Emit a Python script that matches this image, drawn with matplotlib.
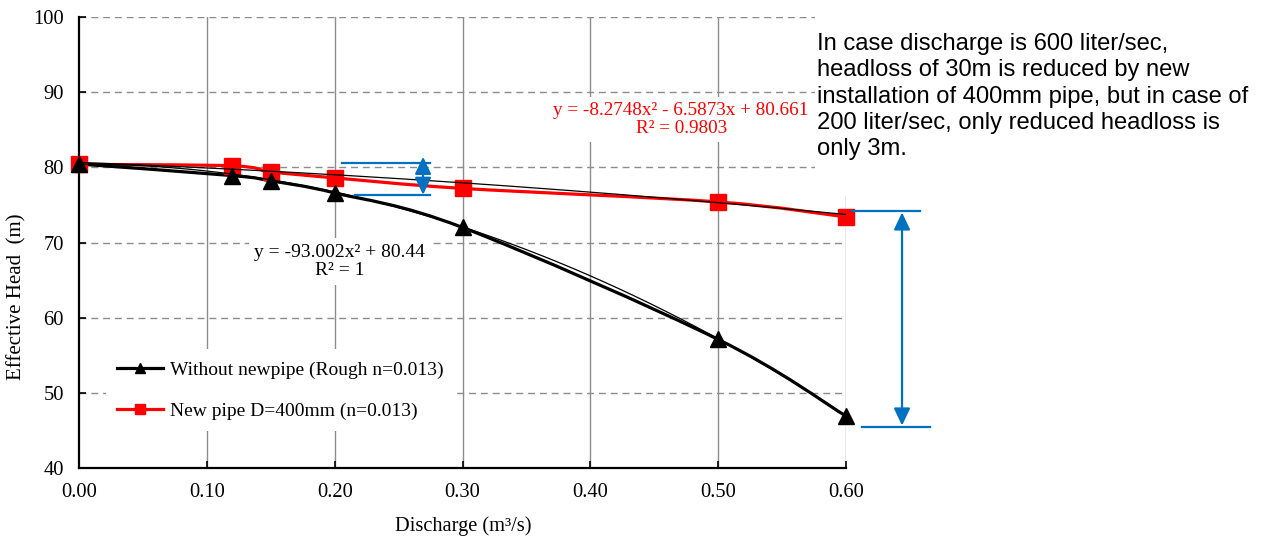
import numpy as np
import matplotlib
matplotlib.use("Agg")
import matplotlib.pyplot as plt
from matplotlib.path import Path
from matplotlib.patches import PathPatch, Rectangle
from matplotlib.lines import Line2D

# data
discharge = [0.00, 0.12, 0.15, 0.20, 0.30, 0.50, 0.60]
head_old = [80.44, 78.9, 78.2, 76.6, 72.0, 57.1, 46.9]
head_new = [80.4, 80.2, 79.4, 78.6, 77.2, 75.4, 73.4]

# Excel trendline coefficients (as printed on the chart)
fit_old = [-93.002, 0.0, 80.44]
fit_new = [-8.2748, -6.5873, 80.661]

label_old = "Without newpipe (Rough n=0.013)"
label_new = "New pipe D=400mm (n=0.013)"
eq_old = "y = -93.002x\u00b2 + 80.44\nR\u00b2 = 1"
eq_new = "y = -8.2748x\u00b2 - 6.5873x + 80.661\nR\u00b2 = 0.9803"
note = ("In case discharge is 600 liter/sec,\n"
        "headloss of 30m is reduced by new\n"
        "installation of 400mm pipe, but in case of\n"
        "200 liter/sec, only reduced headloss is\n"
        "only 3m.")

serif = "Liberation Serif"
sans = "Liberation Sans"
grey = "#8c8c8c"
blue = "#0070C0"


def smooth_path(x, y):
    # excel style smoothed line (catmull-rom as bezier)
    p = np.column_stack([x, y]).astype(float)
    n = len(p)
    verts = [p[0]]
    codes = [Path.MOVETO]
    for i in range(n - 1):
        p0 = p[i - 1] if i > 0 else p[i]
        p3 = p[i + 2] if i + 2 < n else p[i + 1]
        c1 = p[i] + (p[i + 1] - p0) / 6
        c2 = p[i + 1] - (p3 - p[i]) / 6
        verts += [c1, c2, p[i + 1]]
        codes += [Path.CURVE4] * 3
    return Path(verts, codes)


fig = plt.figure(figsize=(12.69, 5.37), dpi=100)
ax = fig.add_axes([0.0623, 0.1285, 0.6044, 0.8398])

ax.set_xlim(0, 0.6)
ax.set_ylim(40, 100)
ax.set_xticks(np.arange(0, 0.61, 0.1))
ax.set_yticks(np.arange(40, 101, 10))
ax.set_xticklabels(["%.2f" % v for v in np.arange(0, 0.61, 0.1)])

# gridlines: solid vertical, dashed horizontal
for v in np.arange(0.1, 0.61, 0.1):
    ax.axvline(v, color=grey, lw=1.0, zorder=0)
for h in np.arange(50, 101, 10):
    ax.axhline(h, color=grey, lw=1.0, ls=(0, (5, 3.5)), zorder=0)

for s in ["top", "right"]:
    ax.spines[s].set_visible(False)
for s in ["left", "bottom"]:
    ax.spines[s].set_linewidth(1.6)
ax.tick_params(direction="in", length=5, width=1.2, pad=11, labelsize=14.8)
for t in ax.get_xticklabels() + ax.get_yticklabels():
    t.set_fontfamily(serif)

# series lines (smoothed) + markers
ax.add_patch(PathPatch(smooth_path(discharge, head_new), fc="none", ec="red",
                       lw=2.3, zorder=3, clip_on=False))
ax.add_patch(PathPatch(smooth_path(discharge, head_old), fc="none", ec="black",
                       lw=2.3, zorder=3, clip_on=False))
ax.plot(discharge, head_new, ls="none", marker="s", ms=12, color="red",
        zorder=4, clip_on=False)
ax.plot(discharge, head_old, ls="none", marker="^", ms=12, color="black",
        zorder=4, clip_on=False)

# trendlines
xs = np.linspace(0, 0.6, 200)
ax.plot(xs, np.polyval(fit_old, xs), color="black", lw=0.9, zorder=5)
ax.plot(xs, np.polyval(fit_new, xs), color="black", lw=0.9, zorder=5)

# trendline equations
ax.text(0.204, 67.5, eq_old, ha="center", va="center", fontsize=14,
        family=serif, linespacing=1.1, zorder=6,
        bbox=dict(boxstyle="square,pad=0.3", fc="white", ec="none"))
ax.text(0.471, 86.4, eq_new, ha="center", va="center", fontsize=13.8,
        family=serif, color="red", linespacing=1.1, zorder=6,
        bbox=dict(boxstyle="square,pad=0.25", fc="white", ec="none"))

# blue dimension arrows
arr = dict(arrowstyle="<|-|>,head_length=0.4,head_width=0.19", color=blue,
           lw=1.6, mutation_scale=26, shrinkA=0, shrinkB=0)
ax.annotate("", xy=(0.2691, 81.4), xytext=(0.2691, 76.35), arrowprops=arr,
            annotation_clip=False, zorder=7)
ax.plot([0.206, 0.2745], [80.55, 80.55], color=blue, lw=1.6, zorder=7)
ax.plot([0.216, 0.2745], [76.3, 76.3], color=blue, lw=1.6, zorder=7)
ax.annotate("", xy=(0.6438, 74.0), xytext=(0.6438, 45.65), arrowprops=arr,
            annotation_clip=False, zorder=7)
ax.plot([0.6047, 0.658], [74.18, 74.18], color=blue, lw=1.6, zorder=7,
        clip_on=False)
ax.plot([0.6125, 0.6657], [45.45, 45.45], color=blue, lw=1.6, zorder=7,
        clip_on=False)

# axis labels
fig.text(463 / 1269, 6 / 537, "Discharge (m\u00b3/s)", ha="center",
         va="baseline", fontsize=14.7, family=serif)
ax.set_ylabel("Effective Head  (m)", fontsize=15, family=serif)
ax.yaxis.set_label_coords(-0.068, 0.379)

# legend
handles = [Line2D([], [], color="black", lw=2.3, marker="^", ms=7),
           Line2D([], [], color="red", lw=2.3, marker="s", ms=7)]
leg = ax.legend(handles, [label_old, label_new], loc="center left",
                bbox_to_anchor=(0.022, 0.172), prop=dict(family=serif, size=14),
                handlelength=2.35, handletextpad=0.35, labelspacing=1.2,
                frameon=True, fancybox=False, borderpad=0.6)
leg.get_frame().set_facecolor("white")
leg.get_frame().set_edgecolor("none")
leg.get_frame().set_alpha(1)
leg.set_zorder(8)

# note box on the right, covers grid behind it
fig.patches.append(Rectangle((815 / 1269, 1 - 196 / 537), 1, 196 / 537,
                             transform=fig.transFigure, fc="white", ec="none",
                             zorder=9))
fig.text(817 / 1269, 1 - 33 / 537, note, ha="left", va="top", fontsize=17.1,
         family=sans, linespacing=1.25, zorder=10)

fig.savefig("out.png", dpi=100)
